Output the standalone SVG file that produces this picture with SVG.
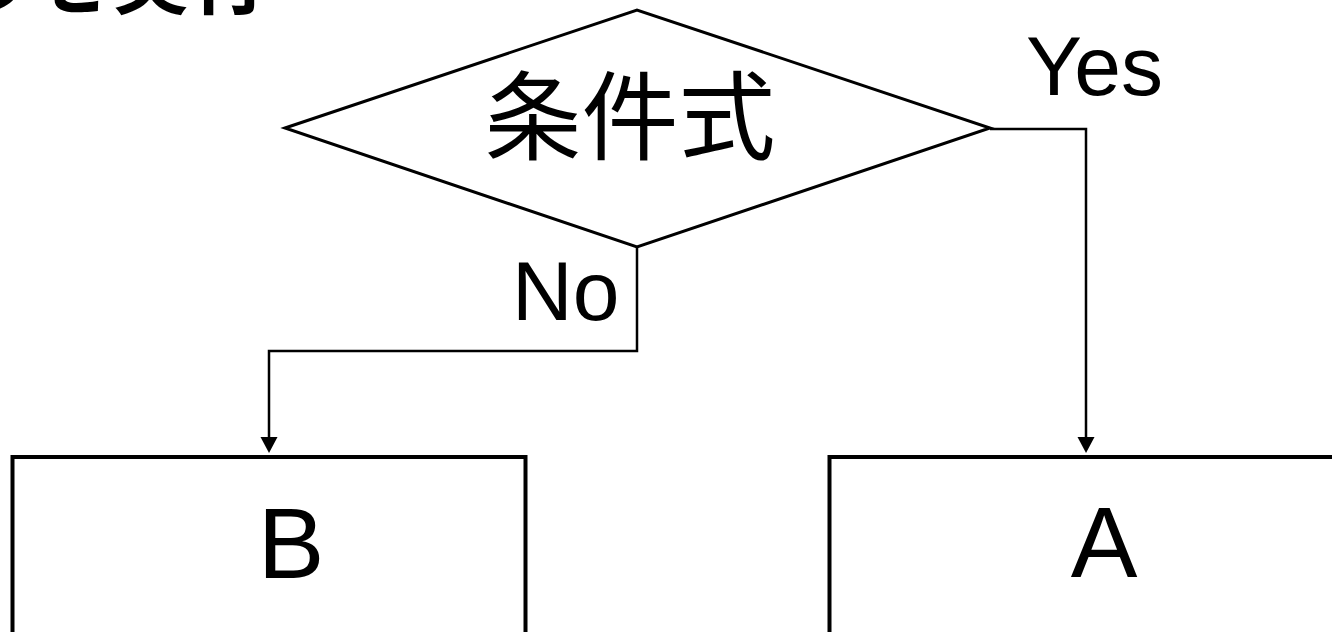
<svg xmlns="http://www.w3.org/2000/svg" width="1332" height="632" viewBox="0 0 1332 632">
<style>
.shape{fill:#fff;stroke:#000}
.lat{font-family:"Liberation Sans",Arial,sans-serif;fill:#000}
.cjk{font-family:"Noto Sans CJK JP","Noto Sans CJK SC",sans-serif;fill:#000}
.conn{fill:none;stroke:#000;stroke-width:2.5}
</style>
<rect width="1332" height="632" fill="#fff"/>
<g id="title">
<text class="cjk" x="268" y="8" font-size="78" font-weight="bold" text-anchor="end">うを実行</text>
</g>
<g id="connectors">
<polyline class="conn" points="990,129 1086,129 1086,437"/>
<path d="M1077.5,437 L1094.5,437 L1086,453 Z" fill="#000"/>
<polyline class="conn" points="637,247 637,351 269,351 269,437"/>
<path d="M260.5,437 L277.5,437 L269,453 Z" fill="#000"/>
</g>
<g id="decision">
<polygon class="shape" stroke-width="3" points="285,128 637,10 990,128 637,247"/>
<text class="cjk" x="630" y="152" font-size="97" text-anchor="middle">条件式</text>
</g>
<g id="label-yes">
<text class="lat" x="1026" y="95" font-size="84">Yes</text>
</g>
<g id="label-no">
<text class="lat" x="512" y="320" font-size="84">No</text>
</g>
<g id="box-b">
<rect class="shape" stroke-width="4" x="12.5" y="457" width="513" height="260"/>
<text class="lat" x="291" y="578" font-size="100" text-anchor="middle">B</text>
</g>
<g id="box-a">
<rect class="shape" stroke-width="4" x="829.5" y="457" width="513" height="260"/>
<text class="lat" x="1104" y="577" font-size="100" text-anchor="middle">A</text>
</g>
</svg>
